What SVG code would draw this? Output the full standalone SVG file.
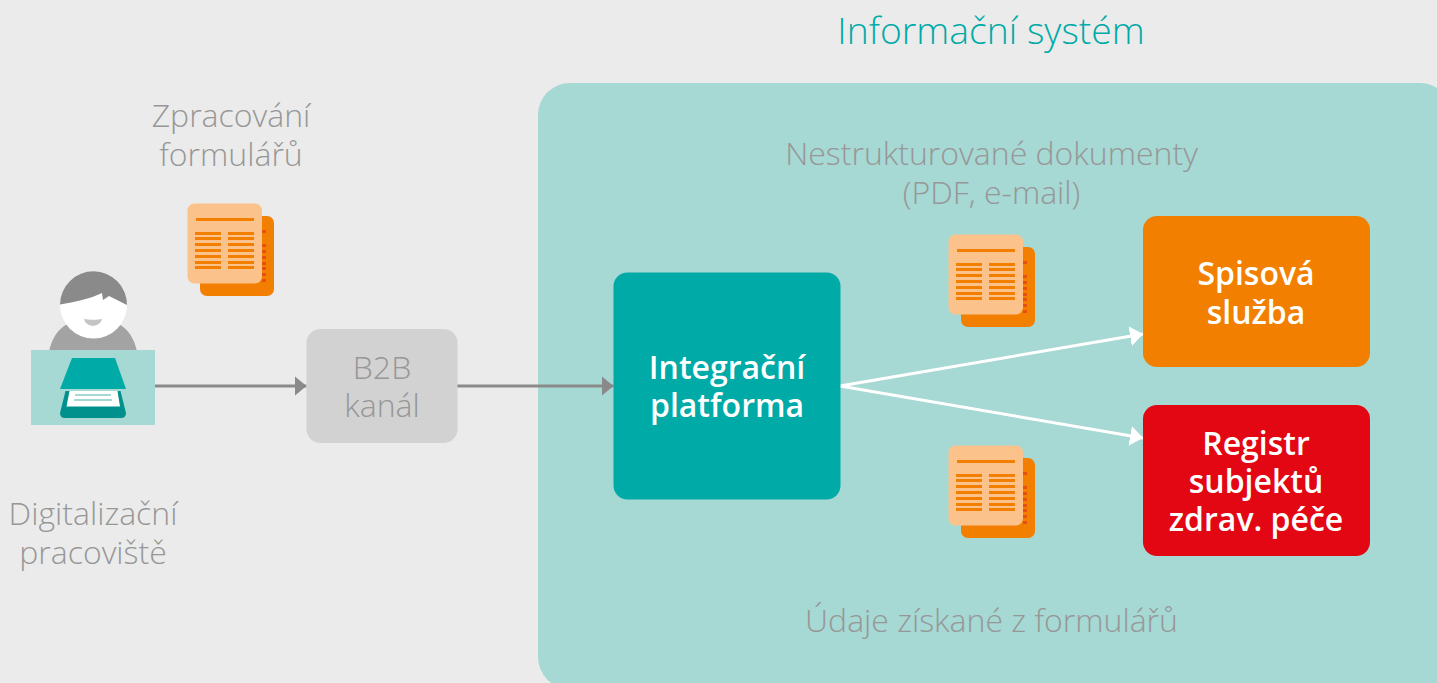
<svg xmlns="http://www.w3.org/2000/svg" width="1437" height="683" viewBox="0 0 1437 683">
<style>
text{font-family:"Open Sans","Noto Sans","Liberation Sans",sans-serif;text-anchor:middle;font-size:32px;font-weight:300;fill:#979797}
.b{font-weight:600;font-size:32px;fill:#fff}
.g{stroke:#8a8a8a;stroke-width:3;fill:none}
.w{stroke:#fff;stroke-width:3;fill:none}
</style>
<defs>
<marker id="ag" markerUnits="userSpaceOnUse" markerWidth="12" markerHeight="20" refX="12" refY="10" orient="auto"><path d="M0 0L12 10L0 20Z" fill="#8a8a8a"/></marker>
<marker id="aw" markerUnits="userSpaceOnUse" markerWidth="13" markerHeight="20" refX="13" refY="10" orient="auto"><path d="M0 0L13 10L0 20Z" fill="#fff"/></marker>
<g id="doc">
<rect x="200" y="216" width="74" height="80" rx="7" fill="#f27f00"/>
<path d="M262 230h4v3h-4zM262 244h4v3h-4zM262 250h4v3h-4zM262 256h4v3h-4zM262 262h4v3h-4zM262 267h4v3h-4zM262 273h4v3h-4zM262 279h4v3h-4z" fill="#e8500f"/>
<rect x="187.5" y="203.500" width="74.500" height="80" rx="7" fill="#fbc28b"/>
<path d="M196 218h58v3h-58zM195 232h26v3h-26zM228 232h26v3h-26zM195 237h26v3h-26zM228 237h26v3h-26zM195 243h26v3h-26zM228 243h26v3h-26zM195 249h26v3h-26zM228 249h26v3h-26zM195 255h26v3h-26zM228 255h26v3h-26zM195 261h26v3h-26zM228 261h26v3h-26zM195 266h26v3h-26zM228 266h26v3h-26z" fill="#f27f00"/>
</g>
</defs>
<rect width="1437" height="683" fill="#ebebeb"/>
<rect id="panel" x="538" y="83" width="914" height="606" rx="32" fill="#a6d8d4"/>
<text x="991" y="44" style="font-size:37.300px;fill:#00aaa7">Informační systém</text>
<g id="zpracovani"><text x="231" y="127">Zpracování<tspan x="231" dy="39">formulářů</tspan></text></g>
<g id="doc1"><use href="#doc"/></g>
<g id="doc2"><use href="#doc" x="761" y="31"/></g>
<g id="doc3"><use href="#doc" x="761" y="242"/></g>
<g id="connectors">
<path class="g" d="M155 386H306.500" marker-end="url(#ag)"/>
<path class="g" d="M457 386H613.500" marker-end="url(#ag)"/>
<path class="w" d="M840 386L1143 334" marker-end="url(#aw)"/>
<path class="w" d="M840 386L1143 438" marker-end="url(#aw)"/>
</g>
<g id="pracoviste">
<path d="M49 352C53 330 68 318 93 318C118 318 133 330 137 352Z" fill="#a3a3a3"/>
<circle cx="93.500" cy="305" r="33.500" fill="#fff"/>
<path d="M60 304.500A33.500 33.500 0 0 1 127 305L109 296L103 300L102 293C90 299 75 302 60 304.500Z" fill="#8a8a8a"/>
<path d="M84 319C88 320 98 320 102 319C100 328 86 328 84 319Z" fill="#c4c4c4"/>
<rect x="31" y="350" width="124" height="75" fill="#a6d8d4"/>
<path d="M72 358H115L126 389H60Z" fill="#00aaa7"/>
<path d="M65.500 391H120.500L126 413Q126 418 121 418H65Q60 418 60 413Z" fill="#00918c"/>
<path d="M69.500 391H117.500L120 406.500H66.500Z" fill="#fff"/>
<path d="M75 394H111V396H75ZM74 399H112V401H74Z" fill="#a6d8d4"/>
<text x="93" y="525">Digitalizační<tspan x="93" dy="39">pracoviště</tspan></text>
</g>
<g id="b2b"><rect x="306.500" y="329" width="151" height="114" rx="14" fill="#d2d2d2"/><text x="382" y="379">B2B<tspan x="382" dy="38">kanál</tspan></text></g>
<g id="integracni"><rect x="613.500" y="272.500" width="227" height="227" rx="14" fill="#00aaa7"/><text class="b" x="727" y="379">Integrační<tspan x="727" dy="38">platforma</tspan></text></g>
<g id="spisova"><rect x="1143" y="216" width="227" height="151" rx="14" fill="#f27f00"/><text class="b" x="1256" y="284.500">Spisová<tspan x="1256" dy="39">služba</tspan></text></g>
<g id="registr"><rect x="1143" y="405" width="227" height="151" rx="14" fill="#e30613"/><text class="b" x="1256" y="454.500">Registr<tspan x="1256" dy="38">subjektů</tspan><tspan x="1256" dy="38">zdrav. péče</tspan></text></g>
<text x="991.500" y="165">Nestrukturované dokumenty<tspan x="991.500" dy="39">(PDF, e-mail)</tspan></text>
<text x="991.500" y="632">Údaje získané z formulářů</text>
</svg>
